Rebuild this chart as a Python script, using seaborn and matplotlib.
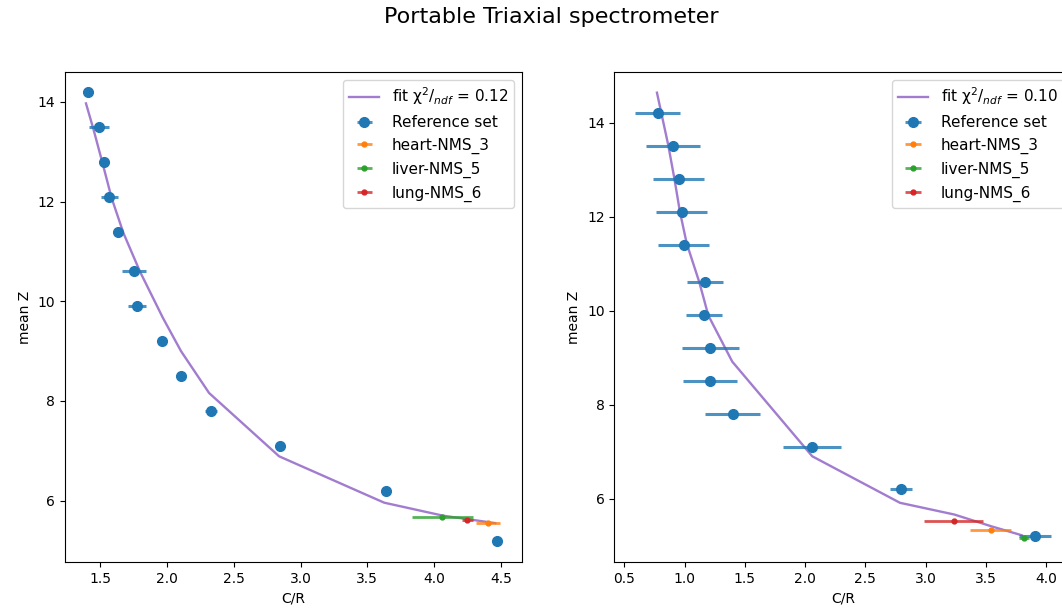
import matplotlib
matplotlib.use("Agg")
import matplotlib.pyplot as plt
import seaborn as sns
import numpy as np

# ---- data ----
z_ref = [14.2, 13.5, 12.8, 12.1, 11.4, 10.6, 9.9, 9.2, 8.5, 7.8, 7.1, 6.2, 5.2]

# left panel
cr_ref_l = [1.41, 1.49, 1.53, 1.57, 1.635, 1.757, 1.777, 1.962, 2.106, 2.33, 2.847, 3.638, 4.47]
cr_err_l = [0.02, 0.076, 0.03, 0.065, 0.03, 0.089, 0.069, 0.03, 0.03, 0.045, 0.03, 0.03, 0.03]
fit_x_l = [1.395, 1.45, 1.52, 1.587, 1.675, 1.80, 1.97, 2.106, 2.316, 2.84, 3.626, 4.065, 4.457]
fit_y_l = [13.97, 13.46, 12.76, 12.07, 11.37, 10.59, 9.67, 9.0, 8.16, 6.89, 5.96, 5.70, 5.55]
organ_x_l = [4.40, 4.062, 4.248]
organ_z_l = [5.56, 5.67, 5.61]
organ_err_l = [0.09, 0.226, 0.04]
chi_l = "0.12"

# right panel
cr_ref_r = [0.777, 0.904, 0.951, 0.976, 0.993, 1.172, 1.161, 1.214, 1.214, 1.40, 2.06, 2.796, 3.908]
cr_err_r = [0.185, 0.228, 0.214, 0.214, 0.214, 0.149, 0.148, 0.235, 0.223, 0.23, 0.242, 0.093, 0.13]
fit_x_r = [0.771, 0.865, 0.915, 0.962, 1.018, 1.122, 1.156, 1.197, 1.396, 2.06, 2.788, 3.24, 3.546, 3.798]
fit_y_r = [14.64, 13.52, 12.82, 12.1, 11.43, 10.61, 10.29, 9.90, 8.915, 6.90, 5.91, 5.66, 5.41, 5.22]
organ_x_r = [3.54, 3.82, 3.236]
organ_z_r = [5.34, 5.17, 5.53]
organ_err_r = [0.17, 0.04, 0.245]
chi_r = "0.10"

organs = ["heart-NMS_3", "liver-NMS_5", "lung-NMS_6"]
organ_colors = ["tab:orange", "tab:green", "tab:red"]

W, H = 1062, 613
fig = plt.figure(figsize=(W / 100, H / 100), dpi=100)
ax_l = fig.add_axes([65 / W, (H - 562) / H, 457 / W, 490 / H])
ax_r = fig.add_axes([614.3 / W, (H - 562) / H, 457 / W, 490 / H])


def draw(ax, cr, err, fx, fy, ox, oz, oerr, chi, xlim, ylim, xticks):
    sns.lineplot(x=fx, y=fy, ax=ax, color="#a27ccf", lw=1.7, sort=False,
                 estimator=None, label="_fit")
    fit_line = ax.lines[-1]
    fit_line.set_label(r"fit χ$^2/_{ndf}$ = " + chi)
    eb = ax.errorbar(cr, z_ref, xerr=err, fmt="o", color="tab:blue", ms=7,
                     elinewidth=2.2, capsize=0, label="Reference set")
    eb[2][0].set_alpha(0.8)
    handles = [fit_line, eb]
    for x, z, e, name, c in zip(ox, oz, oerr, organs, organ_colors):
        h = ax.errorbar([x], [z], xerr=[e], fmt="o", color=c, ms=3.5,
                        elinewidth=2.0, capsize=0, label=name)
        h[2][0].set_alpha(0.8)
        handles.append(h)
    if ax.get_legend() is not None:
        ax.get_legend().remove()
    ax.legend(handles=handles, labels=[h.get_label() for h in handles],
              loc="upper right", fontsize=11)
    ax.set_xlim(*xlim)
    ax.set_ylim(*ylim)
    ax.set_xticks(xticks)
    ax.set_yticks([6, 8, 10, 12, 14])
    ax.set_xlabel("C/R", fontsize=10)
    ax.set_ylabel("mean Z", fontsize=10)


draw(ax_l, cr_ref_l, cr_err_l, fit_x_l, fit_y_l, organ_x_l, organ_z_l, organ_err_l,
     chi_l, (1.238, 4.657), (4.77, 14.6), [1.5, 2.0, 2.5, 3.0, 3.5, 4.0, 4.5])
draw(ax_r, cr_ref_r, cr_err_r, fit_x_r, fit_y_r, organ_x_r, organ_z_r, organ_err_r,
     chi_r, (0.417, 4.21), (4.65, 15.08), [0.5, 1.0, 1.5, 2.0, 2.5, 3.0, 3.5, 4.0])

fig.text(551.7 / W, 1 - 17 / H, "Portable Triaxial spectrometer", ha="center",
         va="center", fontsize=16)

fig.savefig("out.png", dpi=100)
